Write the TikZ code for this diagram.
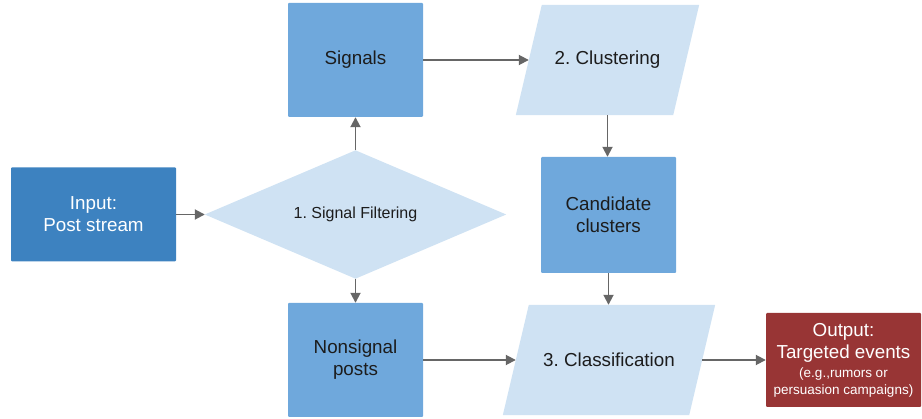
\documentclass[tikz,border=0pt]{standalone}
\usepackage{fontspec}
\setmainfont{Liberation Sans}
\usetikzlibrary{arrows.meta}
\definecolor{darkblue}{HTML}{3D82C0}
\definecolor{midblue}{HTML}{6FA8DC}
\definecolor{paleblue}{HTML}{CFE2F3}
\definecolor{outred}{HTML}{983535}
\definecolor{arrowgray}{HTML}{666666}
\definecolor{txt}{HTML}{1C1C1C}
\frenchspacing
\begin{document}
\begin{tikzpicture}[x=1pt,y=-1pt,
  box/.style={rectangle, rounded corners=1pt, inner sep=0pt, align=center,
    font=\fontsize{18.8}{22}\selectfont, text=txt},
  shapebox/.style={rectangle, inner sep=0pt, align=center,
    font=\fontsize{18.8}{22}\selectfont, text=txt},
  conn/.style={draw=arrowgray, line width=1.8pt,
    -{Triangle[length=10pt,width=10pt]}}
]
\useasboundingbox (0,0) rectangle (922,419);

% input
\node[box, fill=darkblue, text=white, minimum width=165pt, minimum height=94pt] (in) at (93.5,214.5) {Input:\\Post stream};

% filter diamond
\node[shapebox, minimum width=301pt, minimum height=128pt] (filt) at (355.5,214.5) {};
\fill[paleblue] (filt.west) -- (filt.north) -- (filt.east) -- (filt.south) -- cycle;
\node[font=\fontsize{16}{19}\selectfont, text=txt] at (filt.center) {\frenchspacing 1. Signal Filtering};

% signals
\node[box, fill=midblue, minimum width=135pt, minimum height=114pt] (sig) at (355.5,60) {Signals};

% nonsignal
\node[box, fill=midblue, minimum width=135pt, minimum height=114pt] (non) at (355.5,360) {Nonsignal\\posts};

% clustering parallelogram
\node[shapebox, minimum width=157pt, minimum height=110pt] (clu) at (607.5,60) {};
\fill[paleblue] ([xshift=13pt]clu.north west) -- ([xshift=13pt]clu.north east) -- ([xshift=-13pt]clu.south east) -- ([xshift=-13pt]clu.south west) -- cycle;
\node[shapebox] at (clu.center) {\frenchspacing 2. Clustering};

% candidate clusters
\node[box, fill=midblue, minimum width=135pt, minimum height=116pt] (cand) at (608.5,215) {Candidate\\clusters};

% classification parallelogram
\node[shapebox, minimum width=186pt, minimum height=110pt] (cls) at (609,360) {};
\fill[paleblue] ([xshift=13pt]cls.north west) -- ([xshift=13pt]cls.north east) -- ([xshift=-13pt]cls.south east) -- ([xshift=-13pt]cls.south west) -- cycle;
\node[shapebox] at (cls.center) {\frenchspacing 3. Classification};

% output
\node[box, fill=outred, text=white, minimum width=155pt, minimum height=94pt] (out) at (843.5,360)
  {Output:\\Targeted events\\[-3pt]{\fontsize{13.5}{14}\selectfont (e.g.,rumors or}\\[-5pt]{\fontsize{13.5}{14}\selectfont persuasion campaigns)}};

% connectors
\draw[conn] (in.east) -- (filt.west);
\draw[conn] (filt.north) -- (sig.south);
\draw[conn] (filt.south) -- (non.north);
\draw[conn] (sig.east) -- (clu.west);
\draw[conn] (clu.south) -- (clu.south |- cand.north);
\draw[conn] (cand.south) -- (cand.south |- cls.north);
\draw[conn] (non.east) -- (cls.west);
\draw[conn] (cls.east) -- (out.west);
\end{tikzpicture}
\end{document}
